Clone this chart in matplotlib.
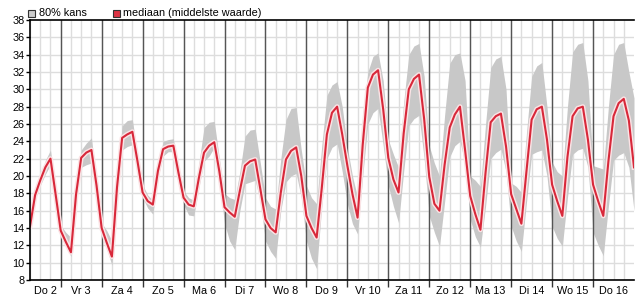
import matplotlib
matplotlib.use("Agg")
import matplotlib.pyplot as plt
import numpy as np

plt.rcParams['font.family'] = ['Liberation Sans', 'DejaVu Sans']

# dag-labels (eerste dag begint om 06:00)
day_labels = ['Do 2', 'Vr 3', 'Za 4', 'Zo 5', 'Ma 6', 'Di 7', 'Wo 8', 'Do 9',
              'Vr 10', 'Za 11', 'Zo 12', 'Ma 13', 'Di 14', 'Wo 15', 'Do 16']

# uren vanaf Do 2 00:00, elke 3 uur
hours = np.arange(6, 361, 3)

# mediaan, per dag 00,03,06,09,12,15,18,21 uur
median = [
    14.2, 17.8, 19.5, 21.0, 22.0, 17.9,
    13.7, 12.4, 11.2, 17.9, 22.1, 22.7, 23.0, 18.9,
    14.0, 12.3, 10.7, 18.7, 24.4, 24.8, 25.1, 21.7,
    18.1, 17.1, 16.7, 20.6, 23.1, 23.4, 23.5, 20.4,
    17.5, 16.7, 16.5, 19.8, 22.7, 23.5, 23.9, 20.5,
    16.4, 15.8, 15.3, 18.3, 21.2, 21.7, 21.9, 18.5,
    15.0, 14.0, 13.5, 18.1, 21.9, 22.9, 23.3, 20.0,
    15.4, 14.0, 12.9, 18.6, 24.8, 27.3, 28.0, 24.8,
    21.2, 17.9, 15.2, 23.6, 30.2, 31.7, 32.2, 27.7,
    22.1, 19.6, 18.1, 24.9, 30.0, 31.2, 31.7, 26.6,
    19.9, 16.8, 16.0, 21.3, 25.6, 27.1, 28.0, 23.0,
    17.7, 15.6, 13.8, 20.4, 26.2, 26.9, 27.2, 23.4,
    17.9, 16.2, 14.5, 20.6, 26.5, 27.7, 28.0, 24.2,
    19.0, 17.1, 15.4, 22.2, 26.9, 27.8, 28.0, 24.2,
    19.0, 17.1, 15.4, 21.7, 26.9, 28.4, 28.9, 26.4,
    21.0,
]

# bovengrens 80% kans
upper = [
    14.4, 18.2, 20.0, 21.8, 23.0, 18.5,
    14.3, 13.5, 12.9, 18.5, 23.0, 23.8, 24.4, 19.5,
    14.6, 13.7, 12.5, 19.5, 25.8, 26.4, 26.5, 22.5,
    19.0, 17.8, 17.2, 21.3, 24.0, 24.2, 24.3, 21.0,
    18.3, 17.5, 17.2, 21.5, 25.6, 26.2, 26.3, 22.0,
    18.0, 17.5, 17.3, 20.5, 24.6, 25.3, 25.4, 21.5,
    17.5, 16.5, 16.2, 22.0, 26.5, 27.8, 27.9, 23.0,
    18.9, 17.5, 16.8, 23.5, 29.3, 30.5, 30.9, 28.0,
    23.3, 20.0, 17.5, 27.0, 32.0, 33.8, 34.2, 31.0,
    24.2, 22.5, 21.0, 28.5, 34.0, 35.0, 35.3, 31.5,
    23.5, 21.5, 20.0, 27.0, 33.0, 34.0, 34.2, 31.0,
    20.0, 19.5, 18.8, 26.0, 32.5, 33.5, 33.8, 30.0,
    19.2, 18.8, 18.1, 25.0, 31.5, 32.7, 33.1, 28.0,
    21.6, 20.5, 20.0, 28.0, 34.3, 35.2, 35.4, 31.0,
    21.2, 21.0, 20.8, 28.0, 34.0, 35.2, 35.4, 32.0,
    29.0,
]

# ondergrens 80% kans
lower = [
    13.9, 17.3, 18.9, 20.2, 21.3, 17.5,
    13.4, 12.0, 10.7, 17.3, 21.0, 21.3, 21.5, 18.3,
    13.8, 11.6, 9.7, 18.0, 23.0, 23.4, 23.6, 20.5,
    17.5, 16.3, 15.6, 19.8, 22.3, 22.8, 22.8, 19.5,
    16.7, 15.5, 15.4, 18.7, 21.7, 22.3, 23.3, 19.5,
    14.5, 12.5, 11.5, 16.0, 19.1, 19.3, 19.5, 17.0,
    12.5, 11.3, 10.5, 16.0, 19.3, 20.0, 20.3, 17.5,
    12.5, 10.5, 9.3, 16.5, 22.0, 23.3, 23.7, 20.5,
    16.8, 14.5, 13.3, 20.0, 26.0, 27.3, 27.8, 23.5,
    18.9, 16.5, 14.6, 20.5, 25.8, 26.6, 27.0, 22.0,
    15.4, 13.5, 11.9, 17.0, 22.2, 23.5, 24.0, 21.5,
    15.0, 13.0, 11.8, 16.5, 22.0, 22.7, 23.1, 20.5,
    14.2, 12.5, 11.3, 17.0, 22.5, 22.8, 23.0, 20.0,
    14.2, 12.8, 11.9, 17.5, 22.5, 23.0, 23.2, 21.0,
    13.5, 12.0, 10.8, 16.5, 21.8, 22.4, 22.7, 21.0,
    16.0,
]

t = hours / 24.0
fs = 7.8

fig = plt.figure(figsize=(6.35, 3.0), dpi=100)
ax = fig.add_axes([30 / 635, 20 / 300, 604 / 635, 260 / 300])

x0, x1 = 0.25, 15.0
ax.set_xlim(x0, x1)
ax.set_ylim(8, 38)

# raster
for xv in np.arange(0.25, 15.0, 0.25):
    ax.axvline(xv, color='#dddddd', lw=1, zorder=0)
for yv in range(10, 38, 2):
    ax.axhline(yv, color='#dddddd', lw=1, zorder=0)

# 80% kans band
ax.fill_between(t, lower, upper, color='#c8c8c8', lw=0, zorder=1)

# dagscheiding
for d in range(1, 15):
    ax.axvline(d, color='#555555', lw=1, zorder=2)

# mediaan met lichte rand
ax.plot(t, median, color='#fbe3e5', lw=3.6, zorder=3, solid_joinstyle='round')
ax.plot(t, median, color='#d8283a', lw=1.5, zorder=4, solid_joinstyle='round')

# assen
ax.set_yticks(range(8, 39, 2))
ax.set_yticklabels([str(v) for v in range(8, 39, 2)], fontsize=fs)
ax.tick_params(axis='y', length=3, width=1, pad=1, color='black')

ax.set_xticks(range(1, 15))
ax.set_xticklabels([])
ax.tick_params(axis='x', which='major', length=5, width=1, color='#333333')
centers = [(x0 + 1) / 2] + [d + 0.5 for d in range(1, 15)]
ax.set_xticks(centers, minor=True)
ax.set_xticklabels(day_labels, minor=True, fontsize=fs)
ax.tick_params(axis='x', which='minor', length=0, pad=4)

for s in ['left', 'bottom', 'top']:
    ax.spines[s].set_color('black')
    ax.spines[s].set_linewidth(1.2)
    ax.spines[s].set_zorder(5)
ax.spines['right'].set_visible(False)

# legenda
fig.patches.append(plt.Rectangle((28 / 635, 1 - 17 / 300), 7 / 635, 7 / 300,
                                 transform=fig.transFigure, facecolor='#cccccc',
                                 edgecolor='#333333', lw=0.8))
fig.text(39 / 635, 1 - 13.5 / 300, '80% kans', fontsize=fs, va='center')
fig.patches.append(plt.Rectangle((113 / 635, 1 - 17 / 300), 7 / 635, 7 / 300,
                                 transform=fig.transFigure, facecolor='#dd3344',
                                 edgecolor='#333333', lw=0.8))
fig.text(123 / 635, 1 - 13.5 / 300, 'mediaan (middelste waarde)', fontsize=fs, va='center')

fig.savefig('out.png', dpi=100)
